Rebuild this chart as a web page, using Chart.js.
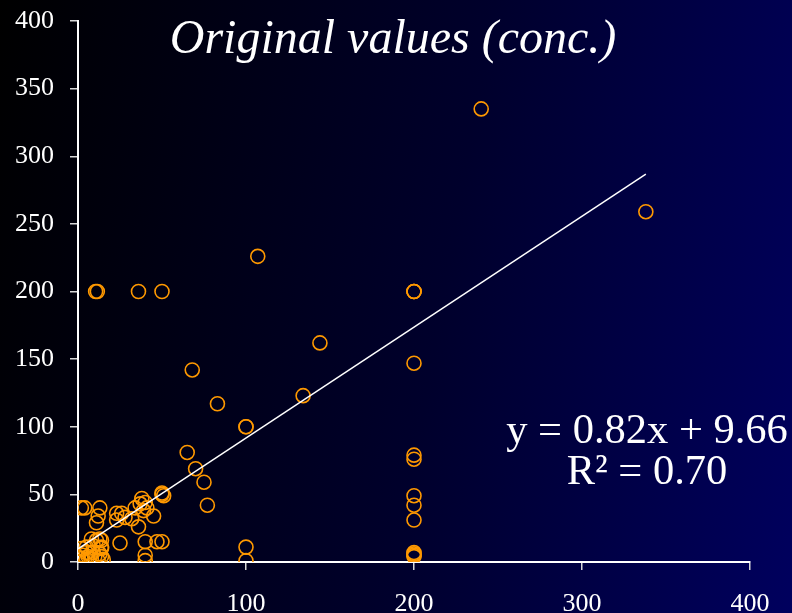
<!DOCTYPE html>
<html>
<head>
<meta charset="utf-8">
<script src="https://cdn.jsdelivr.net/npm/chart.js@4/dist/chart.umd.min.js"></script>
<style>
  html, body { margin: 0; padding: 0; }
  body { width: 792px; height: 613px; overflow: hidden; }
  #wrap {
    position: relative; width: 792px; height: 613px;
    background: linear-gradient(100deg, #000000 0%, #000014 25%, #00002c 55%, #000048 80%, #00005e 100%);
  }
  canvas { display: block; }
</style>
</head>
<body>
<div id="wrap"><canvas id="c" width="792" height="613"></canvas></div>
<script>
// Measured concentrations: original (x) vs. comparison (y)
const concX = [
  240, 338, 107, 10.5, 11.5, 36, 50, 200, 200, 200,
  144, 68, 200, 134, 83, 100, 100, 65, 200, 200,
  70, 75, 77, 200, 200, 200, 200, 200, 200, 200,
  100, 100,
  50, 50, 51, 38, 40, 37, 34, 39, 41, 45,
  23, 26, 28, 23, 32, 36, 25, 40, 40, 40, 47, 50,
  2, 4, 13, 12, 11, 14, 14, 14, 8, 11,
  13, 14, 2, 5, 9, 0, 2, 5, 8, 12,
  15, 0, 1, 5, 9, 13, 3, 6, 10
];
const concY = [
  335, 259, 226, 200, 200, 200, 200, 200, 200, 200,
  162, 142, 147, 123, 117, 100, 100, 81, 79, 76,
  69, 59, 42, 49, 42, 31, 7, 5, 4, 6,
  11, 1,
  50, 51, 49, 47, 44, 43, 40, 38, 40, 34,
  36, 36, 33, 31, 32, 26, 14, 15, 5, 1, 15, 15,
  40, 40, 40, 34, 29, 16, 10, 4, 17, 16,
  17, 11, 10, 11, 12, 3, 3, 2, 2, 1,
  2, 0, 0, 7, 7, 6, 5, 4, 4
];

// Least-squares fit as reported on the chart
const fitSlope = 0.82;
const fitIntercept = 9.66;
const fitR2 = 0.70;

const xTicks = [0, 100, 200, 300, 400];
const yTicks = [0, 50, 100, 150, 200, 250, 300, 350, 400];

const points = concX.map((x, i) => ({ x: x, y: concY[i] }));
const xMin = Math.min(...concX), xMax = Math.max(...concX);
const fitLine = [
  { x: xMin, y: fitSlope * xMin + fitIntercept },
  { x: xMax, y: fitSlope * xMax + fitIntercept }
];

const serif = "'Liberation Serif', 'Times New Roman', serif";

const overlayText = {
  id: 'overlayText',
  afterDraw(chart) {
    const ctx = chart.ctx;
    ctx.save();
    ctx.fillStyle = '#ffffff';
    ctx.textAlign = 'center';
    ctx.textBaseline = 'middle';
    ctx.font = 'italic 48px ' + serif;
    ctx.fillText('Original values (conc.)', 393, 40);
    ctx.font = '42.5px ' + serif;
    const sign = fitIntercept >= 0 ? '+' : '\u2212';
    ctx.fillText('y = ' + fitSlope.toFixed(2) + 'x ' + sign + ' ' + Math.abs(fitIntercept).toFixed(2), 647, 432);
    ctx.fillText('R\u00B2 = ' + fitR2.toFixed(2), 647, 473);
    ctx.restore();
  }
};

new Chart(document.getElementById('c'), {
  type: 'scatter',
  data: {
    datasets: [
      {
        type: 'line',
        data: fitLine,
        borderColor: '#ffffff',
        borderWidth: 1.5,
        pointRadius: 0,
        fill: false,
        order: 0
      },
      {
        data: points,
        pointStyle: 'circle',
        pointRadius: 7,
        pointBorderWidth: 1.6,
        pointBorderColor: '#ff9900',
        pointBackgroundColor: 'rgba(0,0,0,0)',
        order: 1
      }
    ]
  },
  options: {
    responsive: false,
    animation: false,
    layout: { padding: { top: 21, right: 42, left: 0, bottom: 0 } },
    plugins: { legend: { display: false }, tooltip: { enabled: false } },
    scales: {
      x: {
        type: 'linear', min: 0, max: 400,
        afterBuildTicks: s => { s.ticks = xTicks.map(v => ({ value: v })); },
        afterFit: s => { s.height = 51; s.paddingLeft = 0; s.paddingRight = 0; },
        border: { display: true, color: '#ffffff', width: 2 },
        grid: { display: true, drawOnChartArea: false, drawTicks: true, tickLength: 8, color: '#d8d8d8', lineWidth: 1.5 },
        ticks: { color: '#ffffff', font: { family: serif, size: 26 }, padding: 19, maxRotation: 0 }
      },
      y: {
        type: 'linear', min: 0, max: 400,
        afterBuildTicks: s => { s.ticks = yTicks.map(v => ({ value: v })); },
        afterFit: s => { s.width = 78; s.paddingTop = 0; s.paddingBottom = 0; },
        border: { display: true, color: '#ffffff', width: 2 },
        grid: { display: true, drawOnChartArea: false, drawTicks: true, tickLength: 8, color: '#d8d8d8', lineWidth: 1.5 },
        ticks: { color: '#ffffff', font: { family: serif, size: 26 }, padding: 16 }
      }
    }
  },
  plugins: [overlayText]
});
</script>
</body>
</html>
